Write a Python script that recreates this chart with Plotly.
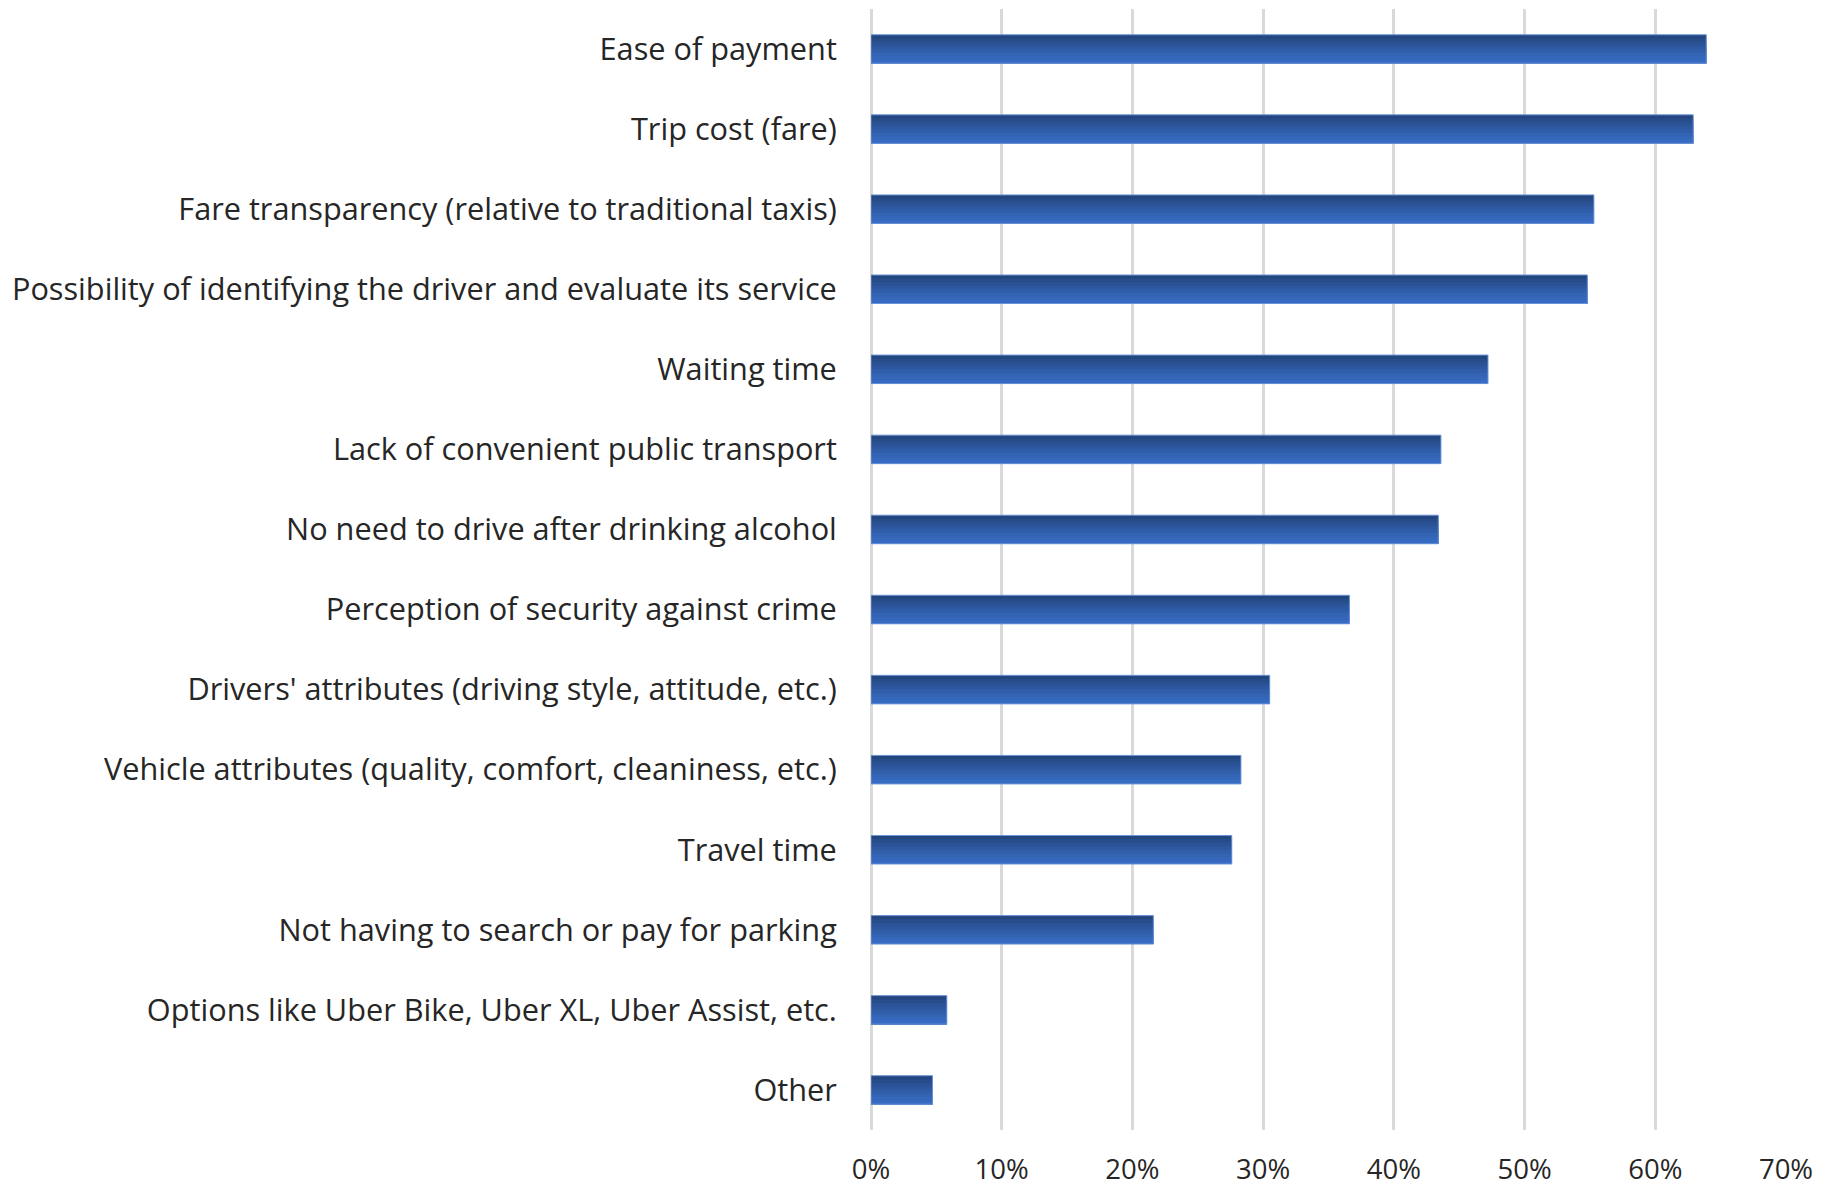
import plotly.graph_objects as go

# Reasons for choosing ride-hailing apps (share of respondents)
categories = [
    "Ease of payment",
    "Trip cost (fare)",
    "Fare transparency (relative to traditional taxis)",
    "Possibility of identifying the driver and evaluate its service",
    "Waiting time",
    "Lack of convenient public transport",
    "No need to drive after drinking alcohol",
    "Perception of security against crime",
    "Drivers' attributes (driving style, attitude, etc.)",
    "Vehicle attributes (quality, comfort, cleaniness, etc.)",
    "Travel time",
    "Not having to search or pay for parking",
    "Options like Uber Bike, Uber XL, Uber Assist, etc.",
    "Other",
]
values = [0.639, 0.629, 0.553, 0.548, 0.472, 0.436, 0.434,
          0.366, 0.305, 0.283, 0.276, 0.216, 0.058, 0.047]
tick_values = [0, 0.1, 0.2, 0.3, 0.4, 0.5, 0.6, 0.7]
tick_labels = ["0%", "10%", "20%", "30%", "40%", "50%", "60%", "70%"]

FONT = "Open Sans"
BAR_W = 0.356
GRID = "#d9d9d9"
# dark navy at the top edge fading to brighter blue at the bottom edge
band_colors = ["#24467f", "#274c8a", "#2a5295", "#2d589f", "#305ea9",
               "#3363b3", "#3567bb", "#376bc3"]

fig = go.Figure()
n = len(band_colors)
for k, col in enumerate(band_colors):
    # each layer runs from its own top edge down to the bar bottom,
    # so successive layers cover the lower part without seams
    fig.add_trace(go.Bar(
        x=values, y=categories, orientation="h",
        width=BAR_W - k * BAR_W / n, offset=-BAR_W / 2 + k * BAR_W / n,
        marker=dict(color=col, line=dict(width=0)),
        hoverinfo="skip", showlegend=False,
    ))
# thin light outline around each full bar
fig.add_trace(go.Bar(
    x=values, y=categories, orientation="h",
    width=BAR_W, offset=-BAR_W / 2,
    marker=dict(color="rgba(0,0,0,0)", line=dict(color="#6a92d8", width=1)),
    showlegend=False,
))

fig.update_layout(
    width=1835, height=1190,
    margin=dict(l=871, r=49, t=9, b=60),
    barmode="overlay",
    plot_bgcolor="white", paper_bgcolor="white",
    font=dict(family=FONT, color="#262626", size=30.7),
    xaxis=dict(
        range=[0, 0.70], tickvals=tick_values, ticktext=tick_labels,
        showgrid=True, gridcolor=GRID, gridwidth=2.5,
        zeroline=True, zerolinecolor=GRID, zerolinewidth=2.5,
        showline=False, automargin=False,
        ticks="outside", ticklen=15, tickcolor="rgba(0,0,0,0)",
        tickfont=dict(size=27.5, family=FONT, color="#262626"),
    ),
    yaxis=dict(
        type="category", categoryorder="array", categoryarray=categories,
        range=[13.5, -0.5], showgrid=False, zeroline=False, showline=False,
        automargin=False,
        ticks="outside", ticklen=27, tickcolor="rgba(0,0,0,0)",
        tickfont=dict(size=30.7, family=FONT, color="#262626"),
    ),
)

fig.write_html("out.html")
